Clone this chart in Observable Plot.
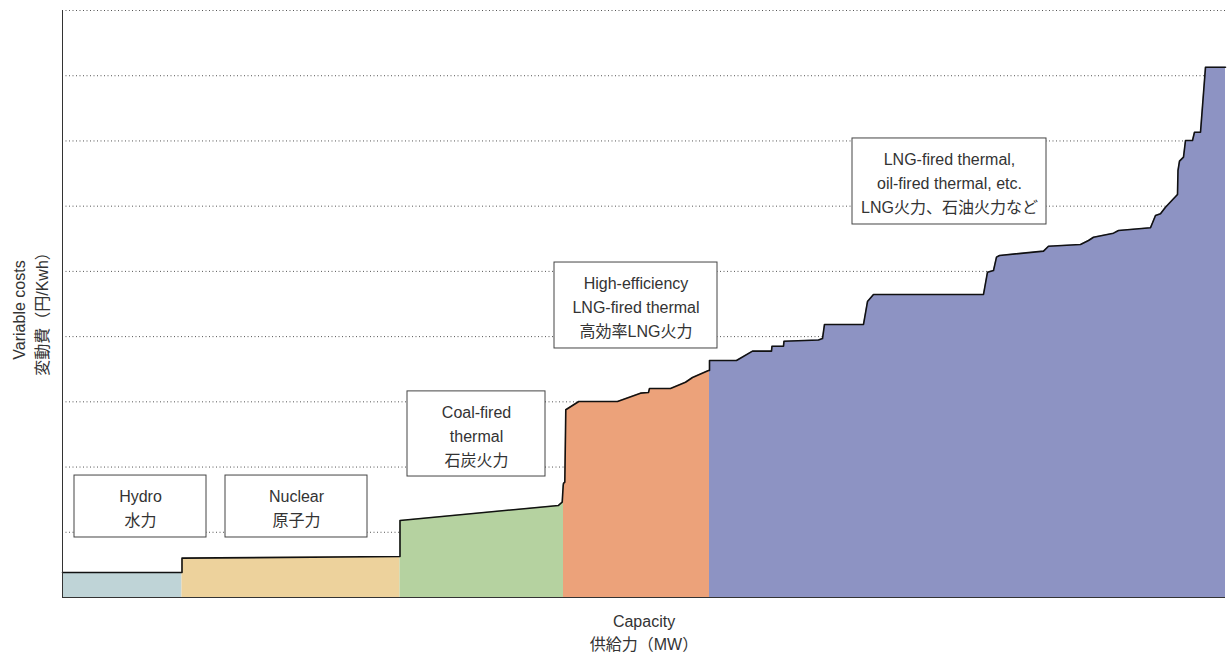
<!DOCTYPE html>
<html>
<head>
<meta charset="utf-8">
<script src="https://cdn.jsdelivr.net/npm/d3@7"></script>
<script src="https://cdn.jsdelivr.net/npm/@observablehq/plot@0.6"></script>
<style>
  html, body { margin: 0; padding: 0; background: #fff; }
</style>
</head>
<body>
<div id="chart"></div>
<script>
// ---- Data (capacity in arbitrary units, variable cost in relative units) ----
const categories = ["Hydro", "Nuclear", "Coal-fired thermal", "High-efficiency LNG-fired thermal", "LNG-fired / oil-fired thermal"];

const hydroCap = [0, 119.5];
const hydroCost = [0.383, 0.383];

const nuclearCap = [119.5, 337.5];
const nuclearCost = [0.603, 0.629];

const coalCap = [337.5, 496, 499.7, 500.7, 501];
const coalCost = [1.181, 1.411, 1.461, 1.717, 1.75];

const lngHeCap = [501, 502.3, 503.3, 516.3, 555, 578, 586, 587, 608, 623, 630, 646, 647];
const lngHeCost = [1.75, 1.768, 2.878, 3.005, 3.005, 3.133, 3.143, 3.205, 3.205, 3.30, 3.373, 3.481, 3.481];

const lngCap = [647, 674, 690, 709, 709.5, 721, 721.5, 756, 760, 762, 801, 805, 811, 921, 925, 931, 934, 937, 981, 986, 1018, 1026, 1031, 1051, 1056, 1088, 1093, 1098, 1103, 1115, 1115.5, 1117, 1121, 1123, 1130, 1132, 1138, 1143, 1163];
const lngCost = [3.634, 3.634, 3.777, 3.777, 3.853, 3.853, 3.930, 3.948, 3.97, 4.186, 4.186, 4.538, 4.646, 4.646, 4.988, 5.014, 5.218, 5.244, 5.310, 5.386, 5.412, 5.474, 5.524, 5.586, 5.627, 5.668, 5.857, 5.883, 5.984, 6.179, 6.547, 6.690, 6.751, 7.007, 7.007, 7.134, 7.134, 8.131, 8.131];

const gridLevels = [1, 2, 3, 4, 5, 6, 7, 8, 9];

// annotation boxes (text + placement in data units)
const boxTexts = ["Hydro\n水力", "Nuclear\n原子力", "Coal-fired\nthermal\n石炭火力", "High-efficiency\nLNG-fired thermal\n高効率LNG火力", "LNG-fired thermal,\noil-fired thermal, etc.\nLNG火力、石油火力など"];
const boxX1 = [12, 163, 345, 492, 790];
const boxX2 = [144, 305, 483, 655, 984];
const boxY1 = [0.92, 0.92, 1.855, 3.818, 5.719];
const boxY2 = [1.87, 1.87, 3.16, 5.136, 7.038];

const colors = ["#bfd4d7", "#edd29c", "#b5d2a0", "#eca27a", "#8d93c3"];

// ---- Build tables ----
const caps = [hydroCap, nuclearCap, coalCap, lngHeCap, lngCap];
const costs = [hydroCost, nuclearCost, coalCost, lngHeCost, lngCost];
const rows = categories.flatMap((c, i) => caps[i].map((x, j) => ({category: c, capacity: x, cost: costs[i][j]})));
const boxes = boxTexts.map((t, i) => ({text: t, x1: boxX1[i], x2: boxX2[i], y1: boxY1[i], y2: boxY2[i]}));

const font = "'Liberation Sans', 'Noto Sans CJK JP', sans-serif";

const chart = Plot.plot({
  width: 1228,
  height: 654,
  marginLeft: 62,
  marginRight: 3,
  marginTop: 10,
  marginBottom: 57,
  style: {fontFamily: font, fontSize: "16px", color: "#333", background: "#fff"},
  x: {domain: [0, 1163], axis: null},
  y: {domain: [0, 9], axis: null},
  color: {domain: categories, range: colors},
  marks: [
    Plot.ruleY(gridLevels, {stroke: "#555", strokeDasharray: "1,2.5", strokeWidth: 1}),
    Plot.areaY(rows, {x: "capacity", y1: 0, y2: "cost", z: "category", fill: "category", fillOpacity: 1}),
    Plot.line(rows, {x: "capacity", y: "cost", stroke: "#111", strokeWidth: 1.6}),
    Plot.ruleX([0], {y1: 0, y2: 9, stroke: "#333"}),
    Plot.ruleY([0], {stroke: "#333"}),
    Plot.rect(boxes, {x1: "x1", x2: "x2", y1: "y1", y2: "y2", fill: "white", stroke: "#444", strokeWidth: 1}),
    Plot.text(boxes, {x: d => (d.x1 + d.x2) / 2, y: d => (d.y1 + d.y2) / 2, text: "text", lineHeight: 1.5, fontSize: 16, fill: "#333"}),
    Plot.text(["Capacity\n供給力（MW）"], {frameAnchor: "bottom", text: d => d, dy: 34, lineAnchor: "middle", textAnchor: "middle", lineHeight: 1.4, fontSize: 16, fill: "#333"}),
    Plot.text(["Variable costs\n変動費（円/Kwh）"], {frameAnchor: "left", text: d => d, rotate: -90, dx: -33, dy: 6, lineAnchor: "middle", textAnchor: "middle", lineHeight: 1.4, fontSize: 16, fill: "#333"})
  ]
});
document.getElementById("chart").appendChild(chart);
</script>
</body>
</html>
